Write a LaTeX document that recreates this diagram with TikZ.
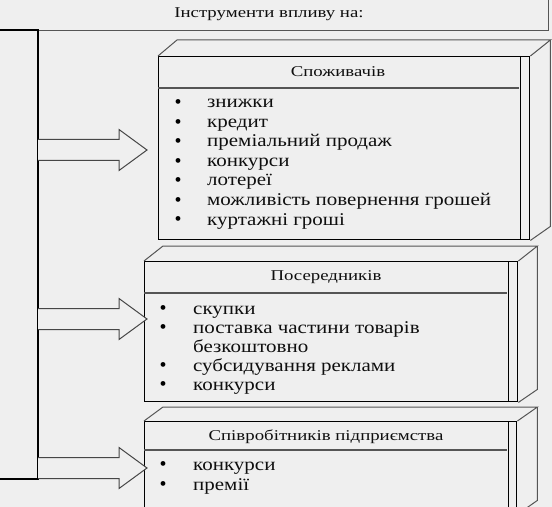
\documentclass[tikz,border=0pt]{standalone}
\usepackage{fontspec}
\setmainfont{Liberation Serif}
\newfontfamily\listfont[FakeStretch=1.17]{Liberation Serif}
\newfontfamily\headfont[FakeStretch=1.26]{Liberation Serif}
\usetikzlibrary{calc}
\definecolor{bg}{RGB}{239,239,239}
\definecolor{edgec}{RGB}{85,85,85}
\definecolor{arrc}{RGB}{70,70,70}
\definecolor{txt}{RGB}{15,15,15}
\begin{document}
\begin{tikzpicture}[x=1bp,y=-1bp,
  front/.style={draw=black,line width=1.4bp,rectangle,inner sep=0,anchor=north west},
  edge/.style={draw=edgec,line width=1bp},
  sepline/.style={draw=edgec,line width=1.2bp},
  inner/.style={draw=black,line width=1bp},
  head/.style={font=\headfont\fontsize{15}{17}\selectfont,inner sep=0,text=txt},
  item/.style={font=\listfont\fontsize{18}{20}\selectfont,inner sep=0,anchor=base west,text=txt},
  bul/.style={font=\fontsize{20}{22}\selectfont,inner sep=0,anchor=center,text=black,yshift=3.5bp},
  arrowbody/.style={draw=arrc,line width=1bp,fill=bg,line join=miter},
  bracket/.style={draw=black,line width=1.5bp}
]
\fill[bg] (0,0) rectangle (552,507);
\useasboundingbox (0,0) rectangle (552,507);

% top box
\node[draw=edgec,line width=1bp,rectangle,inner sep=0,minimum width=554bp,minimum height=36bp,anchor=south west] (top) at (-6,31) {};
\node[head] (title) at (269,14) {Інструменти впливу на:};

% bracket
\coordinate (bt0) at (-3,30);
\coordinate (bt) at (38,30);
\coordinate (bb) at (38,479);
\coordinate (bb0) at (-3,479);
\draw[bracket] (bt0) -- (bt) -- (bb) -- (bb0);

% ---------- box 1
\node[front,minimum width=371bp,minimum height=183bp] (b1) at (158,56) {};
\draw[edge] (b1.north west) -- ++(19,-16) -- ($(b1.north east)+(20,-16)$) -- (b1.north east);
\draw[edge] ($(b1.north east)+(20,-16)$) -- ($(b1.south east)+(20,-14)$) -- (b1.south east);
\draw[inner] ($(b1.north east)+(-10,0)$) -- ($(b1.south east)+(-10,0)$);
\draw[sepline] (158,88) -- (519,88);
\node[head] (h1) at (338,72) {Споживачів};
\foreach \t [count=\i] in {знижки,кредит,преміальний продаж,конкурси,лотереї,можливість повернення грошей,куртажні гроші}{
  \node[bul] (p1-\i) at (178,{108+19.5*(\i-1)}) {•};
  \node[item] (t1-\i) at (207,{108+19.5*(\i-1)}) {\t};
}

% ---------- box 2
\node[front,minimum width=373bp,minimum height=140bp] (b2) at (144,261) {};
\draw[edge] (b2.north west) -- ++(19,-15) -- ($(b2.north east)+(19,-15)$) -- (b2.north east);
\draw[edge] ($(b2.north east)+(19,-15)$) -- ($(b2.south east)+(19,-13)$) -- (b2.south east);
\draw[inner] ($(b2.north east)+(-10,0)$) -- ($(b2.south east)+(-10,0)$);
\draw[sepline] (144,293) -- (507,293);
\node[head] (h2) at (326,277) {Посередників};
\node[bul] (p2-1) at (163,314) {•};
\node[item] (t2-1) at (193,314) {скупки};
\node[bul] (p2-2) at (163,333) {•};
\node[item] (t2-2) at (193,333) {поставка частини товарів};
\node[item] (t2-2b) at (193,352) {безкоштовно};
\node[bul] (p2-3) at (163,371) {•};
\node[item] (t2-3) at (193,371) {субсидування реклами};
\node[bul] (p2-4) at (163,390) {•};
\node[item] (t2-4) at (193,390) {конкурси};

% ---------- box 3
\node[front,minimum width=372bp,minimum height=92bp] (b3) at (144,421) {};
\draw[edge] (b3.north west) -- ++(19,-14) -- ($(b3.north east)+(20,-14)$) -- (b3.north east);
\draw[edge] ($(b3.north east)+(20,-14)$) -- ($(b3.south east)+(20,-14)$) -- (b3.south east);
\draw[inner] ($(b3.north east)+(-9,0)$) -- ($(b3.south east)+(-9,0)$);
\draw[sepline] (144,450) -- (507,450);
\node[head] (h3) at (326,437) {Співробітників підприємства};
\node[bul] (p3-1) at (163,470) {•};
\node[item] (t3-1) at (193,470) {конкурси};
\node[bul] (p3-2) at (163,490) {•};
\node[item] (t3-2) at (193,490) {премії};

% ---------- arrows
\foreach \n/\yy in {1/150,2/319,3/468}{
  \coordinate (s\n) at (38,\yy);
  \coordinate (a\n) at (147,\yy);
  \draw[arrowbody] ($(s\n)+(0,-10.5)$) -- ($(a\n)+(-28,-10.5)$) -- ($(a\n)+(-28,-20.5)$) -- (a\n)
     -- ($(a\n)+(-28,20.5)$) -- ($(a\n)+(-28,10.5)$) -- ($(s\n)+(0,10.5)$);
}
\end{tikzpicture}
\end{document}
